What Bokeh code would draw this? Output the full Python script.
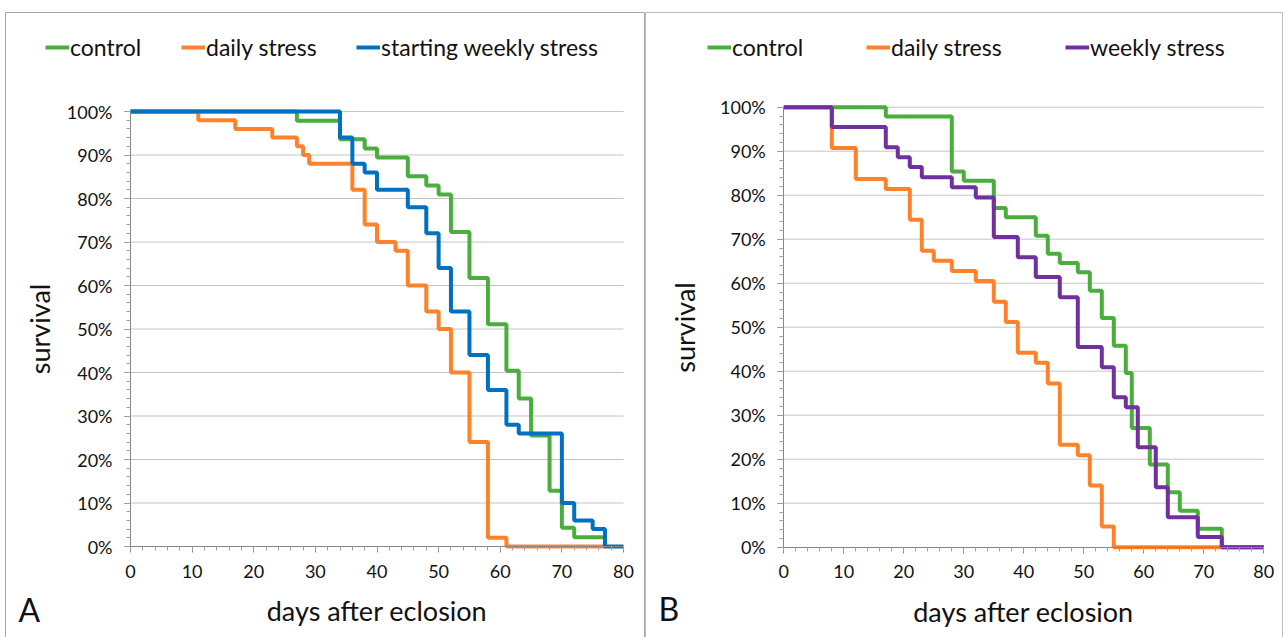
import numpy as np
from bokeh.plotting import figure
from bokeh.models import (Range1d, FixedTicker, NumeralTickFormatter, Legend,
                          LegendItem, Label, Spacer, LinearAxis)
from bokeh.layouts import row, column
from bokeh.embed import file_html
from bokeh.resources import INLINE

FONT = "Lato"

# ---------------- Panel A data (days, survival %) ----------------
a_control_days = [0, 27, 34, 38, 40, 45, 48, 50, 52, 55, 58, 61, 63, 65, 68, 70, 72, 77]
a_control_surv = [100, 97.9, 93.6, 91.5, 89.4, 85.1, 83.0, 80.9, 72.3, 61.7, 51.1, 40.4, 34.0, 25.5, 12.8, 4.3, 2.1, 2.1]

a_daily_days = [0, 11, 17, 23, 27, 28, 29, 36, 38, 40, 43, 45, 48, 50, 52, 55, 58, 61, 77]
a_daily_surv = [100, 98, 96, 94, 92, 90, 88, 82, 74, 70, 68, 60, 54, 50, 40, 24, 2, 0, 0]

a_weekly_days = [0, 34, 36, 38, 40, 45, 48, 50, 52, 55, 58, 61, 63, 70, 72, 75, 77, 80]
a_weekly_surv = [100, 94, 88, 86, 82, 78, 72, 64, 54, 44, 36, 28, 26, 10, 6, 4, 0, 0]

# ---------------- Panel B data ----------------
b_control_days = [0, 17, 28, 30, 35, 37, 42, 44, 46, 49, 51, 53, 55, 57, 58, 61, 64, 66, 69, 73, 80]
b_control_surv = [100, 97.9, 85.4, 83.3, 77.1, 75.0, 70.8, 66.7, 64.6, 62.5, 58.3, 52.1, 45.8, 39.6, 27.1, 18.8, 12.5, 8.3, 4.2, 0, 0]

b_daily_days = [0, 8, 12, 17, 21, 23, 25, 28, 32, 35, 37, 39, 42, 44, 46, 49, 51, 53, 55, 73]
b_daily_surv = [100, 90.7, 83.7, 81.4, 74.4, 67.4, 65.1, 62.8, 60.5, 55.8, 51.2, 44.2, 41.9, 37.2, 23.3, 20.9, 14.0, 4.7, 0, 0]

b_weekly_days = [0, 8, 17, 19, 21, 23, 28, 32, 35, 39, 42, 46, 49, 53, 55, 57, 59, 62, 64, 69, 73, 80]
b_weekly_surv = [100, 95.5, 90.9, 88.6, 86.4, 84.1, 81.8, 79.5, 70.5, 65.9, 61.4, 56.8, 45.5, 40.9, 34.1, 31.8, 22.7, 13.6, 6.8, 2.3, 0, 0]

x_ticks = [0, 10, 20, 30, 40, 50, 60, 70, 80]
y_ticks = [0, 0.1, 0.2, 0.3, 0.4, 0.5, 0.6, 0.7, 0.8, 0.9, 1.0]
x_minor = list(range(0, 81, 2))
y_minor = [i / 50 for i in range(51)]

GREEN = "#4aae3c"
ORANGE = "#ff8129"
BLUE = "#0070c0"
PURPLE = "#7030a0"
INK = "#111111"


def make_panel(width, height, x0_px, ppd, y1_px, ppu, ylab_standoff, border):
    """Frame covers the whole panel; axes are placed at data 0 via fixed_location."""
    xs = -x0_px / ppd
    xe = xs + width / ppd
    ye = 1 + y1_px / ppu
    ys = ye - height / ppu
    p = figure(width=width, height=height, min_border=0,
               x_range=Range1d(xs, xe), y_range=Range1d(ys, ye),
               x_axis_location=None, y_axis_location=None,
               output_backend="svg", toolbar_location=None,
               background_fill_color="white", border_fill_color="white",
               outline_line_color=border, outline_line_width=1)
    p.grid.visible = False
    # grid lines limited to the plotting area
    gy = y_ticks[1:]
    p.segment(x0=[0] * len(gy), x1=[80] * len(gy), y0=gy, y1=gy,
              line_color="#c4c4c4", line_width=1)

    xax = LinearAxis(fixed_location=0, bounds=(0, 80))
    yax = LinearAxis(fixed_location=0, bounds=(0, 1))
    xax.ticker = FixedTicker(ticks=x_ticks, minor_ticks=x_minor)
    yax.ticker = FixedTicker(ticks=y_ticks, minor_ticks=y_minor)
    yax.formatter = NumeralTickFormatter(format="0%")
    for ax in (xax, yax):
        ax.axis_line_color = "#868686"
        ax.axis_line_width = 1
        ax.major_tick_line_color = "#868686"
        ax.minor_tick_line_color = "#a0a0a0"
        ax.major_tick_in = 0
        ax.major_tick_out = 6
        ax.minor_tick_in = 0
        ax.minor_tick_out = 4
        ax.major_label_text_font = FONT
        ax.major_label_text_font_size = "18px"
        ax.major_label_text_color = INK
        ax.axis_label_text_font = FONT
        ax.axis_label_text_font_size = "27px"
        ax.axis_label_text_font_style = "normal"
        ax.axis_label_text_color = INK
    xax.axis_label = "days after eclosion"
    yax.axis_label = "survival"
    xax.major_label_standoff = 12
    xax.axis_label_standoff = 13
    yax.major_label_standoff = 12
    yax.axis_label_standoff = ylab_standoff
    p.add_layout(xax, "below")
    p.add_layout(yax, "left")
    return p


def add_legend(p, r, label, x, y):
    leg = Legend(items=[LegendItem(label=label, renderers=[r])], location=(x, y),
                 orientation="horizontal", glyph_width=24, glyph_height=22,
                 label_standoff=1, padding=0, margin=0, spacing=0,
                 border_line_color=None, background_fill_alpha=0,
                 label_text_font=FONT, label_text_font_size="23px",
                 label_height=22, label_text_baseline="middle",
                 label_text_color=INK)
    p.add_layout(leg, "center")


H = 626
LEG_Y = H - 27 - 22   # legend top 27 px below the panel top

# Panel A  (panel spans x 5..645, y 12..638)
pA = make_panel(640, H, 125, 493 / 80, 99, 435, 8, "#a6a6a6")
rA1 = pA.step(a_control_days, np.array(a_control_surv) / 100, mode="after", line_color=GREEN, line_width=4)
rA2 = pA.step(a_daily_days, np.array(a_daily_surv) / 100, mode="after", line_color=ORANGE, line_width=4)
rA3 = pA.step(a_weekly_days, np.array(a_weekly_surv) / 100, mode="after", line_color=BLUE, line_width=4)
add_legend(pA, rA1, "control", 40, LEG_Y)
add_legend(pA, rA2, "daily stress", 176, LEG_Y)
add_legend(pA, rA3, "starting weekly stress", 351, LEG_Y)
pA.add_layout(Label(x=13, y=10, x_units="screen", y_units="screen", text="A",
                    text_font=FONT, text_font_size="32px", text_color=INK))

# Panel B  (panel spans x 645..1283)
pB = make_panel(638, H, 138.3, 6.0, 94.7, 440, 16, "#bdbdbd")
rB1 = pB.step(b_control_days, np.array(b_control_surv) / 100, mode="after", line_color=GREEN, line_width=4)
rB2 = pB.step(b_daily_days, np.array(b_daily_surv) / 100, mode="after", line_color=ORANGE, line_width=4)
rB3 = pB.step(b_weekly_days, np.array(b_weekly_surv) / 100, mode="after", line_color=PURPLE, line_width=4)
add_legend(pB, rB1, "control", 62, LEG_Y)
add_legend(pB, rB2, "daily stress", 221, LEG_Y)
add_legend(pB, rB3, "weekly stress", 420, LEG_Y)
pB.add_layout(Label(x=13, y=11, x_units="screen", y_units="screen", text="B",
                    text_font=FONT, text_font_size="32px", text_color=INK))

layout = column(Spacer(height=12), row(Spacer(width=5), pA, pB))

open("out.html", "w").write(file_html(layout, INLINE))
